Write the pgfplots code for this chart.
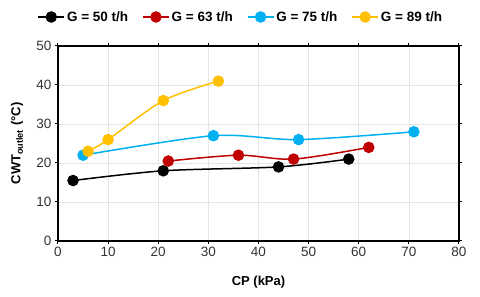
\documentclass[border=0pt]{standalone}
\usepackage{fontspec}
\setmainfont{Liberation Sans}
\usepackage{pgfplots}
\pgfplotsset{compat=1.18}
\definecolor{cblack}{RGB}{0,0,0}
\definecolor{cred}{RGB}{192,0,0}
\definecolor{cblue}{RGB}{0,176,240}
\definecolor{cyel}{RGB}{255,192,0}
\begin{document}
\begin{tikzpicture}[x=1pt,y=1pt]
\useasboundingbox (-58,-56) rectangle (422,241);
\begin{axis}[
  at={(0,0)}, anchor=south west,
  scale only axis, width=401pt, height=195pt,
  xmin=0, xmax=80, ymin=0, ymax=50,
  xtick={0,10,...,80}, ytick={0,10,...,50},
  tick align=outside, major tick length=3pt,
  tick style={black, line width=1pt},
  axis line style={black, line width=1.2pt},
  grid=major, grid style={gray!20, line width=0.6pt},
  /pgf/number format/assume math mode=true,
  tick label style={font=\fontsize{13.5}{15}\selectfont, text=black!80},
  xlabel={\textbf{CP (kPa)}},
  ylabel={\textbf{CWT\textsubscript{outlet} (°C)}},
  label style={font=\fontsize{13}{15}\selectfont},
  xlabel style={at={(rel axis cs:0.5,0)}, anchor=center, yshift=-41pt},
  ylabel style={at={(rel axis cs:0,0.5)}, anchor=center, rotate=0, yshift=41pt},
  legend style={at={(0.456,1.0)}, anchor=center, yshift=29pt, draw=none, fill=none,
    font=\bfseries\fontsize{13.5}{15}\selectfont, legend columns=4,
    /tikz/every even column/.append style={column sep=12pt}},
  legend image code/.code={
    \draw[mark repeat=2,mark phase=2,#1] plot coordinates {(0pt,0pt) (13pt,0pt) (26pt,0pt)};},
  every axis plot/.append style={line width=1.5pt, mark=*, mark size=5pt, smooth, tension=0.5},
  clip=false,
]
\addplot[color=cblack, mark options={fill=cblack}] coordinates {(3,15.5) (21,18) (44,19) (58,21)};
\addlegendentry{G = 50 t/h}
\addplot[color=cred, mark options={fill=cred}] coordinates {(22,20.5) (36,22) (47,21) (62,24)};
\addlegendentry{G = 63 t/h}
\addplot[color=cblue, mark options={fill=cblue}] coordinates {(5,22) (31,27) (48,26) (71,28)};
\addlegendentry{G = 75 t/h}
\addplot[color=cyel, mark options={fill=cyel}] coordinates {(6,23) (10,26) (21,36) (32,41)};
\addlegendentry{G = 89 t/h}
\end{axis}
\end{tikzpicture}
\end{document}
